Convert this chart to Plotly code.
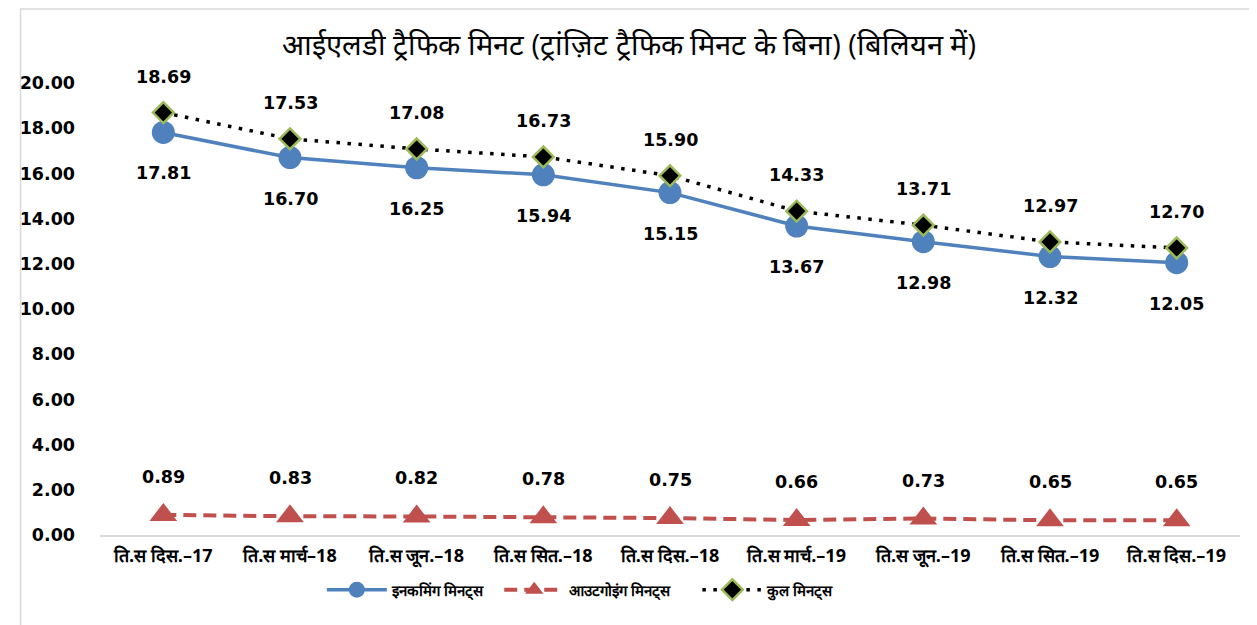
import plotly.graph_objects as go

categories = ["ति.स दिस.–17", "ति.स मार्च–18", "ति.स जून.–18", "ति.स सित.–18", "ति.स दिस.–18",
              "ति.स मार्च.–19", "ति.स जून.–19", "ति.स सित.–19", "ति.स दिस.–19"]
incoming = [17.81, 16.70, 16.25, 15.94, 15.15, 13.67, 12.98, 12.32, 12.05]
outgoing = [0.89, 0.83, 0.82, 0.78, 0.75, 0.66, 0.73, 0.65, 0.65]
total = [18.69, 17.53, 17.08, 16.73, 15.90, 14.33, 13.71, 12.97, 12.70]
y_ticks = [0, 2, 4, 6, 8, 10, 12, 14, 16, 18, 20]

names = ["इनकमिंग मिनट्स", "आउटगोइंग मिनट्स", "कुल मिनट्स"]
title = "आईएलडी ट्रैफिक मिनट (ट्रांज़िट ट्रैफिक मिनट के बिना) (बिलियन में)"

fig = go.Figure()
fig.add_trace(go.Scatter(x=categories, y=incoming, name=names[0], mode="lines+markers",
                         legend="legend", showlegend=True,
                         line=dict(color="#4F81BD", width=3.5),
                         marker=dict(symbol="circle", size=23, color="#4F81BD")))
fig.add_trace(go.Scatter(x=categories, y=outgoing, name=names[1], mode="lines+markers",
                         legend="legend2", showlegend=True,
                         line=dict(color="#C0504D", width=4, dash="13px,7px"),
                         marker=dict(symbol="triangle-up", size=24, color="#C0504D")))
fig.add_trace(go.Scatter(x=categories, y=total, name=names[2], mode="lines+markers",
                         legend="legend3", showlegend=True,
                         line=dict(color="#000000", width=3.5, dash="3.5px,7.5px"),
                         marker=dict(symbol="diamond", size=16, color="#000000",
                                     line=dict(color="#9BBB59", width=2.5))))

num_font = "DejaVu Sans, Verdana, sans-serif"
label_font = dict(family=num_font, size=17.5, color="#000000", weight="bold")
annotations = []
for c, v in zip(categories, incoming):
    annotations.append(dict(x=c, y=v, text=f"{v:.2f}", showarrow=False, yshift=-41, font=label_font))
for c, v in zip(categories, total):
    annotations.append(dict(x=c, y=v, text=f"{v:.2f}", showarrow=False, yshift=36, font=label_font))
for c, v in zip(categories, outgoing):
    annotations.append(dict(x=c, y=v, text=f"{v:.2f}", showarrow=False, yshift=38, font=label_font))

legend_common = dict(orientation="h", xanchor="left", y=-0.085, yanchor="top",
                     font=dict(size=15, color="#000000", weight="bold"), itemwidth=60,
                     bgcolor="rgba(0,0,0,0)")

fig.update_layout(
    width=1257, height=625,
    showlegend=True,
    paper_bgcolor="white", plot_bgcolor="white",
    margin=dict(l=81, r=25, t=75, b=98),
    title=dict(text=title, x=0.494, xanchor="center", y=0.9408, yanchor="middle",
               font=dict(size=29, color="#000000")),
    xaxis=dict(type="category", showgrid=False, showline=True, linecolor="#D9D9D9", linewidth=1.5,
               ticks="", tickfont=dict(size=18, color="#000000", weight="bold"),
               ticklabelstandoff=4, range=[-0.5, 8.5], fixedrange=True),
    yaxis=dict(range=[0, 20], tickvals=y_ticks, tickformat=".2f", showgrid=False, zeroline=False,
               showline=False, ticks="", ticklabelstandoff=24,
               tickfont=dict(family=num_font, size=17.5, color="#000000", weight="bold")),
    legend=dict(x=0.1946, **legend_common),
    legend2=dict(x=0.3502, **legend_common),
    legend3=dict(x=0.5240, **legend_common),
    annotations=annotations,
    shapes=[dict(type="rect", xref="paper", yref="paper", x0=-0.0697, x1=1.0139, y0=-0.3, y1=1.1637,
                 line=dict(color="#D9D9D9", width=1.5))],
)
fig.write_html("out.html")
